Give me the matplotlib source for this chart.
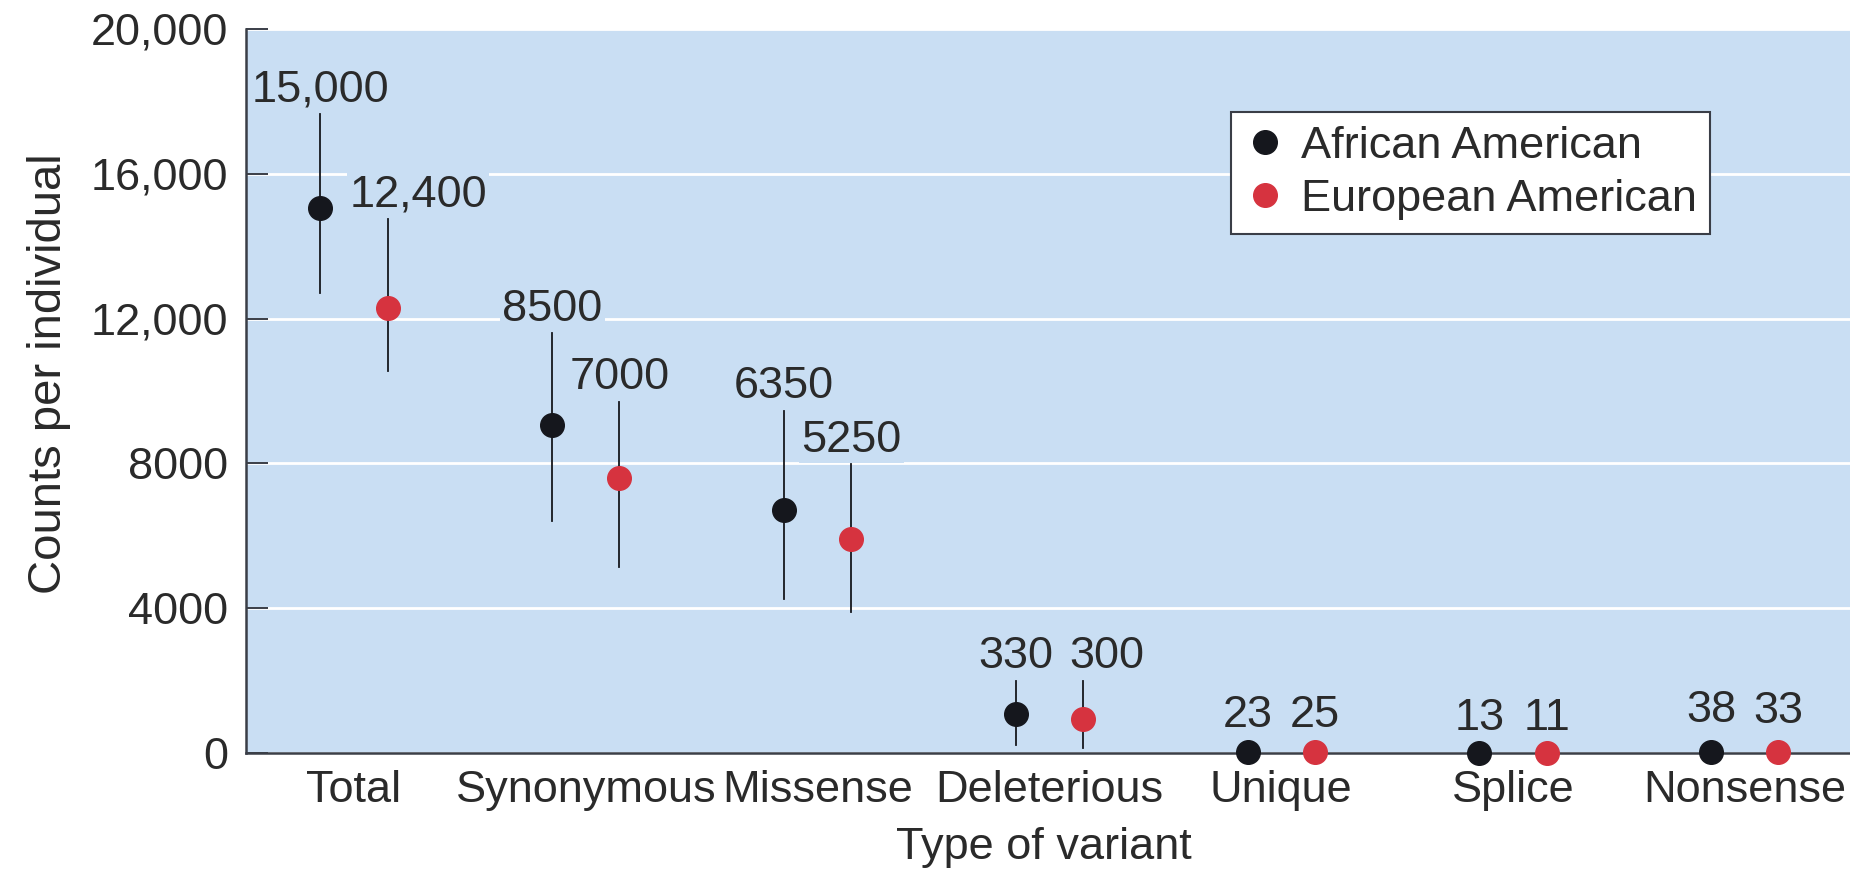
import matplotlib
matplotlib.use("Agg")
import matplotlib.pyplot as plt
from matplotlib.lines import Line2D

# ---- data ----
categories = ["Total", "Synonymous", "Missense", "Deleterious", "Unique", "Splice", "Nonsense"]
aa_values = [15050, 9050, 6700, 1080, 23, 13, 38]
ea_values = [12300, 7600, 5900, 950, 25, 11, 33]
aa_low = [12700, 6400, 4250, 220, None, None, None]
aa_high = [17650, 11600, 9450, 1990, None, None, None]
ea_low = [10550, 5150, 3900, 150, None, None, None]
ea_high = [14750, 9700, 7980, 1990, None, None, None]
aa_labels = ["15,000", "8500", "6350", "330", "23", "13", "38"]
ea_labels = ["12,400", "7000", "5250", "300", "25", "11", "33"]
yticks = [0, 4000, 8000, 12000, 16000, 20000]
ytick_labels = ["0", "4000", "8000", "12,000", "16,000", "20,000"]
series_names = ["African American", "European American"]

# ---- style ----
BG = "#C9DEF3"
BLACK = "#15171D"
RED = "#D6333F"
TEXT = "#2A2A2A"
SPINE = "#3A3E47"
FS = 32.5
plt.rcParams['font.family'] = ['Liberation Sans', 'DejaVu Sans']

fig = plt.figure(figsize=(18.5, 8.77), dpi=100)
ax = fig.add_axes([246 / 1850, 124 / 877, 1604 / 1850, 724 / 877])
ax.set_facecolor(BG)
ax.set_xlim(-0.466, 6.454)
ax.set_ylim(0, 20000)

off = 0.145
# label nudges (points)
aa_dx = [0, 0, 0, 0, 0, 0, 0]
ea_dx = [22, 0, 0, 17, 0, 0, 0]
small_dy = {4: 18, 5: 16, 6: 21}

for i in range(len(categories)):
    for vals, lows, highs, labs, dxs, col, sgn in (
        (aa_values, aa_low, aa_high, aa_labels, aa_dx, BLACK, -1),
        (ea_values, ea_low, ea_high, ea_labels, ea_dx, RED, 1),
    ):
        x = i + sgn * off
        if lows[i] is not None:
            ax.plot([x, x], [lows[i], highs[i]], color=BLACK, lw=1.3, zorder=3)
            ty = highs[i]
            dy = 9
        else:
            ty = vals[i]
            dy = small_dy[i]
        ax.plot([x], [vals[i]], 'o', ms=17, color=col, mec=col, zorder=6, clip_on=False)
        ax.annotate(labs[i], xy=(x, ty), xytext=(dxs[i], dy), textcoords='offset points',
                    ha='center', va='baseline', fontsize=FS, color=TEXT, zorder=5,
                    bbox=dict(boxstyle='square,pad=0.05', fc=BG, ec='none'))

ax.set_yticks(yticks)
ax.set_yticklabels(ytick_labels)
ax.set_xticks(range(len(categories)))
ax.set_xticklabels(categories)
ax.tick_params(axis='y', direction='in', length=16, width=1.4, color=SPINE,
               labelsize=FS, labelcolor=TEXT, pad=13)
ax.tick_params(axis='x', length=0, labelsize=FS, labelcolor=TEXT, pad=12)
ax.yaxis.grid(True, color='white', lw=2)
ax.set_axisbelow(True)
for s in ('top', 'right'):
    ax.spines[s].set_visible(False)
for s in ('left', 'bottom'):
    ax.spines[s].set_color(SPINE)
    ax.spines[s].set_linewidth(1.8)

ax.set_ylabel("Counts per individual", fontsize=34, color=TEXT)
ax.yaxis.set_label_coords(-0.109, 0.524)
ax.set_xlabel("Type of variant", fontsize=FS, color=TEXT, va='center')
ax.xaxis.set_label_coords(0.4975, -0.13)

handles = [Line2D([], [], marker='o', ls='none', ms=17, color=BLACK),
           Line2D([], [], marker='o', ls='none', ms=17, color=RED)]
leg = fig.legend(handles, series_names, loc='upper left',
                 bbox_to_anchor=(1231 / 1850, 1 - 112 / 877), fontsize=FS,
                 frameon=True, fancybox=False, edgecolor=SPINE, framealpha=1,
                 borderpad=0.3, handlelength=0.9, handletextpad=0.35,
                 labelspacing=0.28, borderaxespad=0, labelcolor=TEXT)
leg.get_frame().set_linewidth(1.5)

fig.savefig("out.png", dpi=100)
